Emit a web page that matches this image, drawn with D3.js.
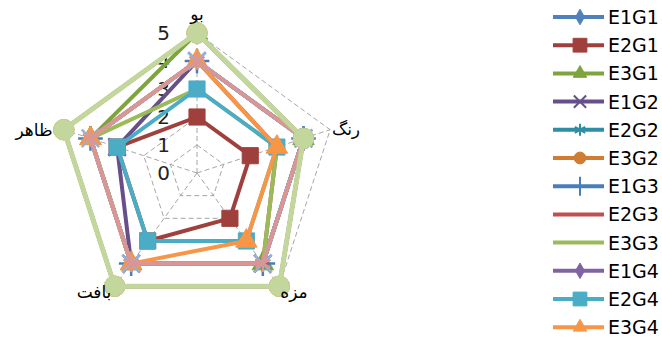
<!DOCTYPE html>
<html>
<head>
<meta charset="utf-8">
<script src="https://cdn.jsdelivr.net/npm/d3@7"></script>
<style>
  body { margin: 0; background: #fff; }
  svg text { font-family: "DejaVu Sans", "Liberation Sans", sans-serif; }
</style>
</head>
<body>
<div id="radar"></div>
<script>
// categories (axes), clockwise from the top
var categories = ["بو", "رنگ", "مزه", "بافت", "ظاهر"];
var tickLabels = [0, 1, 2, 3, 4, 5];
var seriesNames = ["E1G1", "E2G1", "E3G1", "E1G2", "E2G2", "E3G2",
                   "E1G3", "E2G3", "E3G3", "E1G4", "E2G4", "E3G4",
                   "E1G5", "E2G5", "E3G5"];

// scores per series, in the order of categories
var E1G1 = [5, 4, 5, 5, 5];
var E2G1 = [2, 2, 2, 3, 3];
var E3G1 = [5, 4, 4, 4, 4];
var E1G2 = [4, 4, 4, 4, 3];
var E2G2 = [4, 4, 4, 4, 4];
var E3G2 = [5, 4, 5, 5, 5];
var E1G3 = [4, 4, 4, 4, 4];
var E2G3 = [4, 3, 4, 4, 4];
var E3G3 = [3, 3, 4, 4, 4];
var E1G4 = [5, 4, 5, 5, 5];
var E2G4 = [3, 3, 3, 3, 3];
var E3G4 = [4, 3, 3, 4, 4];
var E1G5 = [4, 4, 4, 4, 4];
var E2G5 = [4, 4, 4, 4, 4];
var E3G5 = [5, 4, 5, 5, 5];
var seriesValues = [E1G1, E2G1, E3G1, E1G2, E2G2, E3G2, E1G3, E2G3, E3G3,
                    E1G4, E2G4, E3G4, E1G5, E2G5, E3G5];

// style
var colors = ["#4F81BD", "#A0403D", "#7EA43E", "#664F8A", "#2F8EA5", "#D07C32",
              "#4A7EBB", "#C0504D", "#9BBB59", "#8064A2", "#4BACC6", "#F79646",
              "#95B3D7", "#D99694", "#C3D69B"];

// Excel-like marker cycle (chart size, legend size)
var dash = { draw: function(ctx, size) { var w = Math.sqrt(size) / 2; ctx.moveTo(-w, 0); ctx.lineTo(w, 0); } };
var markerTypes = [
  { t: d3.symbolDiamond, fill: true, s: 90, ls: 70 },
  { t: d3.symbolSquare, fill: true, s: 260, ls: 190 },
  { t: d3.symbolTriangle, fill: true, s: 200, ls: 80 },
  { t: d3.symbolTimes, fill: false, s: 200, ls: 100 },
  { t: d3.symbolAsterisk, fill: false, s: 200, ls: 100 },
  { t: d3.symbolCircle, fill: true, s: 330, ls: 110 },
  { t: d3.symbolPlus, fill: false, s: 200, ls: 120 },
  { t: dash, fill: false, s: 120, ls: 120 },
  null
];

var svgWidth = 662;
var svgHeight = 339;
var cx = 197, cy = 173, radius = 140;

var svg = d3.select("#radar").append("svg")
  .attr("width", svgWidth)
  .attr("height", svgHeight);

var rScale = d3.scaleLinear().domain([0, 5]).range([0, radius]);
var angle = d3.scalePoint().domain(categories).range([0, 2 * Math.PI * 4 / 5]);

function pt(cat, v) {
  var a = angle(cat);
  return [cx + rScale(v) * Math.sin(a), cy - rScale(v) * Math.cos(a)];
}

var chart = svg.append("g");

// grid pentagons
tickLabels.slice(1).forEach(function(t) {
  chart.append("path")
    .attr("d", d3.line()(categories.map(function(c) { return pt(c, t); })) + "Z")
    .attr("fill", "none")
    .attr("stroke", "#a6a6a6")
    .attr("stroke-width", 1)
    .attr("stroke-dasharray", "5,3");
});
// spokes
categories.forEach(function(c) {
  var p = pt(c, 5);
  chart.append("line")
    .attr("x1", cx).attr("y1", cy).attr("x2", p[0]).attr("y2", p[1])
    .attr("stroke", "#a6a6a6")
    .attr("stroke-width", 1)
    .attr("stroke-dasharray", "5,3");
});

// value axis labels
chart.selectAll(".tick")
  .data(tickLabels)
  .enter()
  .append("text")
  .attr("x", cx - 27)
  .attr("y", function(d) { return cy - rScale(d) + 7; })
  .attr("text-anchor", "end")
  .attr("font-size", 20)
  .attr("fill", "#222")
  .text(function(d) { return d; });

// series lines then markers
seriesValues.forEach(function(vals, i) {
  var pts = categories.map(function(c, k) { return pt(c, vals[k]); });
  chart.append("path")
    .attr("d", d3.line()(pts) + "Z")
    .attr("fill", "none")
    .attr("stroke", colors[i])
    .attr("stroke-width", i == 14 ? 5 : 4)
    .attr("stroke-linejoin", "round");

  var m = markerTypes[i % 9];
  if (m) {
    chart.selectAll(".m" + i)
      .data(pts)
      .enter()
      .append("path")
      .attr("transform", function(p) { return "translate(" + p[0] + "," + p[1] + ")"; })
      .attr("d", d3.symbol().type(m.t).size(m.s))
      .attr("fill", m.fill ? colors[i] : "none")
      .attr("stroke", colors[i])
      .attr("stroke-width", m.fill ? 1 : 2.5);
  }
});

// category labels
var labelPos = [[197, 20], [346, 135], [294, 298], [94, 298], [34, 136]];
chart.selectAll(".cat")
  .data(categories)
  .enter()
  .append("text")
  .attr("x", function(d, i) { return labelPos[i][0]; })
  .attr("y", function(d, i) { return labelPos[i][1]; })
  .attr("text-anchor", "middle")
  .attr("font-size", 17)
  .attr("fill", "#000")
  .text(function(d) { return d; });

// legend (entries past the bottom edge are not shown, as in the original)
var legend = svg.append("g").attr("transform", "translate(553,17)");
seriesNames.forEach(function(name, i) {
  if (17 + i * 28.2 > svgHeight - 8) return;
  var g = legend.append("g").attr("transform", "translate(0," + (i * 28.2) + ")");
  g.append("line")
    .attr("x1", 0).attr("x2", 51).attr("y1", 0).attr("y2", 0)
    .attr("stroke", colors[i])
    .attr("stroke-width", 4);
  var m = markerTypes[i % 9];
  if (m) {
    g.append("path")
      .attr("transform", "translate(27,0)")
      .attr("d", d3.symbol().type(m.t).size(m.ls))
      .attr("fill", m.fill ? colors[i] : "none")
      .attr("stroke", colors[i])
      .attr("stroke-width", m.fill ? 1 : 2);
  }
  g.append("text")
    .attr("x", 55)
    .attr("y", 7)
    .attr("font-family", "Liberation Sans, sans-serif")
    .attr("font-size", 19)
    .attr("fill", "#000")
    .text(name);
});
</script>
</body>
</html>
